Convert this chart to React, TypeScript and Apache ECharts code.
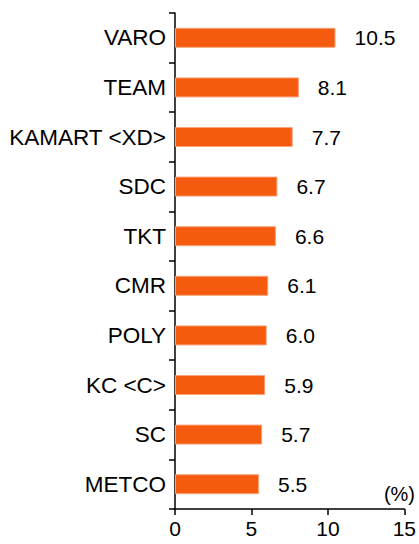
import React, { useEffect, useRef } from "react";
import * as echarts from "echarts";

const categories = ["VARO", "TEAM", "KAMART <XD>", "SDC", "TKT", "CMR", "POLY", "KC <C>", "SC", "METCO"];
const values = [10.5, 8.1, 7.7, 6.7, 6.6, 6.1, 6.0, 5.9, 5.7, 5.5];
const xTicks = { min: 0, max: 15, interval: 5 };
const unitLabel = "(%)";

export default function App() {
  const ref = useRef<HTMLDivElement>(null);
  useEffect(() => {
    if (!ref.current) return;
    const chart = echarts.init(ref.current, null, { renderer: "svg" });
    const font = "Liberation Sans, Arial, sans-serif";
    chart.setOption({
      animation: false,
      backgroundColor: "#ffffff",
      grid: { left: 175, top: 13, width: 234, height: 496, containLabel: false },
      xAxis: {
        type: "value",
        min: xTicks.min,
        max: xTicks.max,
        interval: xTicks.interval,
        splitLine: { show: false },
        axisLine: { show: true, lineStyle: { color: "#000", width: 1.5 } },
        axisTick: { show: true, length: 6, lineStyle: { color: "#000", width: 1.5 } },
        axisLabel: { color: "#000", fontSize: 21, fontFamily: font, margin: 9 },
      },
      yAxis: {
        type: "category",
        data: categories,
        inverse: true,
        axisLine: { show: true, lineStyle: { color: "#000", width: 1.5 } },
        axisTick: { show: true, length: 6, lineStyle: { color: "#000", width: 1.5 } },
        axisLabel: { color: "#000", fontSize: 22.5, fontFamily: font, margin: 9 },
      },
      series: [
        {
          type: "bar",
          data: values,
          barWidth: 20,
          itemStyle: { color: "#F45B0E", borderColor: "#F8A27A", borderWidth: 1 },
          label: {
            show: true,
            position: "right",
            distance: 19,
            color: "#000",
            fontSize: 21,
            fontFamily: font,
            formatter: (p: any) => Number(p.value).toFixed(1),
          },
        },
      ],
      graphic: [
        {
          type: "text",
          right: 4,
          top: 484,
          style: { text: unitLabel, fill: "#000", fontSize: 20, fontFamily: font },
        },
      ],
    });
    return () => chart.dispose();
  }, []);
  return (
    <div
      ref={ref}
      style={{ position: "fixed", left: 0, top: 0, width: 419, height: 544 }}
    />
  );
}
